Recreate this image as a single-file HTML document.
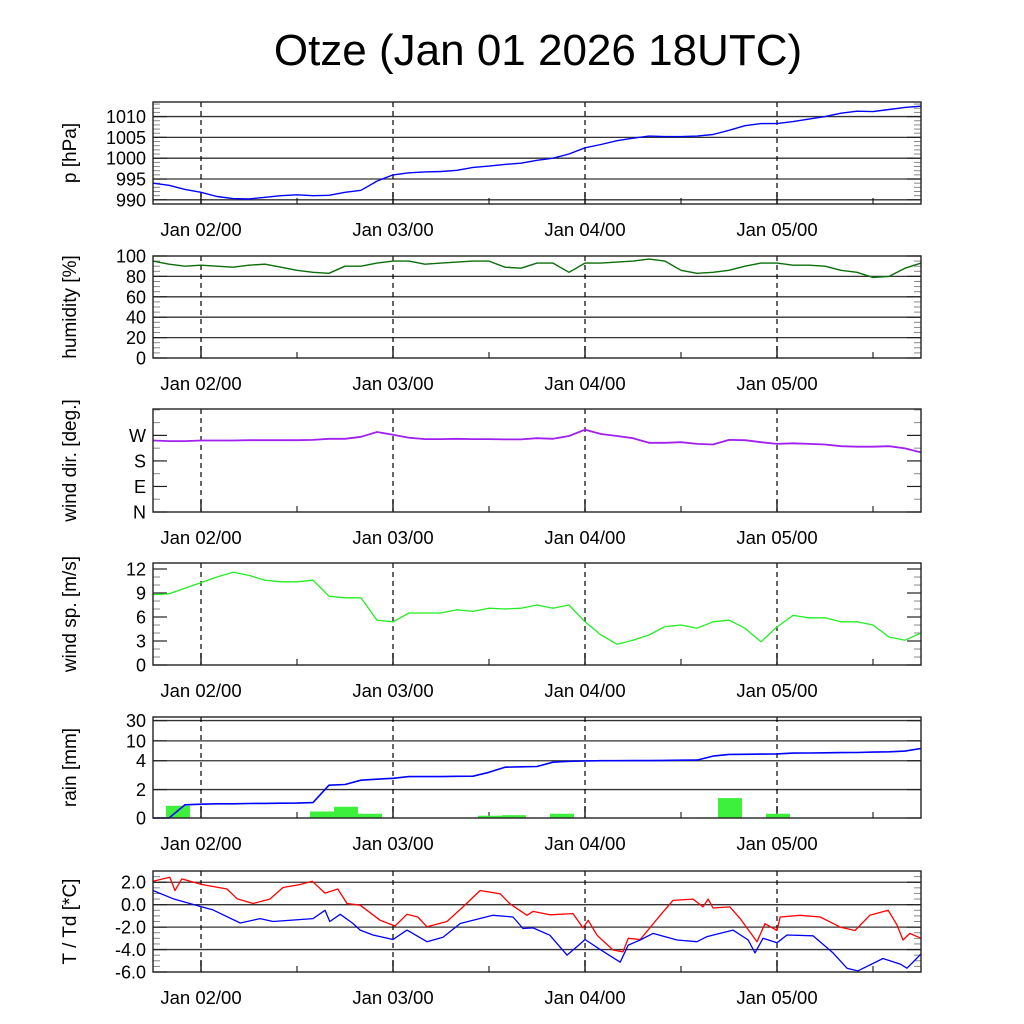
<!DOCTYPE html>
<html><head><meta charset="utf-8"><style>
html,body{margin:0;padding:0;background:#fff;}
svg{display:block;font-family:"Liberation Sans",sans-serif;}
</style></head><body>
<svg id="chart" width="1024" height="1024" viewBox="0 0 1024 1024" xmlns="http://www.w3.org/2000/svg">
<rect x="0" y="0" width="1024" height="1024" fill="#fff"/>
<text x="538" y="65" font-size="44" text-anchor="middle" fill="#000">Otze (Jan 01 2026 18UTC)</text>
</svg>
<script>
// ---- data (hours since Jan 01 18UTC) ----
const hours2 = [0,2,4,6,8,10,12,14,16,18,20,22,24,26,28,30,32,34,36,38,40,42,44,46,48,50,52,54,56,58,60,62,64,66,68,70,72,74,76,78,80,82,84,86,88,90,92,94,96];
const dayTicks = [6,30,54,78];
const dayLabels = ["Jan 02/00","Jan 03/00","Jan 04/00","Jan 05/00"];
const halfDayTicks = [18,42,66,90];
const pressure = [994.0,993.5,992.5,991.8,990.8,990.3,990.2,990.6,991.0,991.2,991.0,991.1,991.8,992.3,994.5,996.0,996.5,996.7,996.8,997.1,997.8,998.1,998.5,998.8,999.5,1000.0,1001.0,1002.5,1003.3,1004.2,1004.8,1005.3,1005.2,1005.2,1005.3,1005.7,1006.7,1007.8,1008.3,1008.3,1008.8,1009.4,1010.0,1010.8,1011.3,1011.2,1011.7,1012.2,1012.5];
const humidity = [95,92,90,91,90,89,91,92,89,86,84,83,90,90,93,95,95,92,93,94,95,95,89,88,93,93,84,93,93,94,95,97,95,86,83,84,86,90,93,93,91,91,90,86,84,79,80,88,93];
const windDir = [252,250,250,252,252,252,253,253,253,253,254,258,258,265,282,272,262,257,257,258,257,257,256,256,260,258,268,290,275,268,260,244,244,246,240,238,254,253,246,240,242,240,238,232,230,230,232,224,210];
const windSpeed = [8.8,8.9,9.6,10.3,11.0,11.6,11.2,10.6,10.4,10.4,10.6,8.6,8.4,8.4,5.6,5.4,6.5,6.5,6.5,6.9,6.7,7.1,7.0,7.1,7.5,7.1,7.5,5.4,3.75,2.6,3.1,3.75,4.8,5.0,4.6,5.4,5.6,4.6,2.9,4.75,6.2,5.9,5.9,5.4,5.4,5.0,3.5,3.1,4.0];
const rainAccum = [0,0,0.93,0.97,1.0,1.0,1.02,1.03,1.04,1.05,1.08,2.3,2.35,2.65,2.72,2.78,2.9,2.9,2.9,2.92,2.93,3.2,3.55,3.58,3.6,3.9,3.96,3.98,4.0,4.02,4.03,4.05,4.1,4.15,4.2,5.4,5.9,5.95,6.0,6.05,6.3,6.35,6.4,6.45,6.5,6.6,6.7,6.9,7.7];
const rainBinStart = [1.625,4.625,7.625,10.625,13.625,16.625,19.625,22.625,25.625,28.625,31.625,34.625,37.625,40.625,43.625,46.625,49.625,52.625,55.625,58.625,61.625,64.625,67.625,70.625,73.625,76.625,79.625,82.625,85.625,88.625,91.625];
const rainBins = [0.86,0.02,0,0,0,0,0.46,0.79,0.3,0,0.03,0,0,0.16,0.2,0,0.3,0.02,0,0,0,0,0.04,1.4,0,0.3,0,0,0.02,0.02,0.02];
const tempHours = [0,2.1,2.75,3.6,6.1,9.25,10.5,12.5,14.6,16.25,18.4,19.9,21.5,23.1,24.25,25.9,28.4,30.25,31.75,33.1,34.25,36.75,38.75,40.9,43.4,44.6,46.75,47.5,49.6,52.5,53.75,54.4,55.5,57.5,58.75,59.4,60.9,63.4,65,67.5,68.75,69.4,70,72.1,73.4,75.5,76.5,78,78.4,80.9,83.4,85.9,87.75,89.6,91.9,93,93.75,94.6,96];
const temp = [2.09,2.44,1.26,2.3,1.8,1.4,0.53,0.1,0.5,1.53,1.8,2.09,1.03,1.4,0.1,-0.05,-1.39,-1.9,-0.86,-1.1,-1.97,-1.5,-0.2,1.26,0.97,0.09,-0.95,-0.6,-0.9,-0.8,-2.07,-1.39,-2.72,-4.04,-4.2,-3.0,-3.1,-0.95,0.38,0.5,-0.2,0.5,-0.3,-0.2,-1.24,-3.3,-1.7,-2.3,-1.1,-0.95,-1.1,-2.0,-2.3,-0.95,-0.5,-1.8,-3.15,-2.56,-3.0];
const dewHours = [0,2.5,6.1,7.5,10.9,13.4,15,20,21.5,22.1,23.4,25,25.9,27.5,30,31.75,34.25,36.25,38.4,42.5,45,46.25,47.5,49.6,51.75,53.4,54,55.9,58.4,59.4,60.9,62.5,65.5,68,69.25,72.5,74.4,75.25,76.25,78,79.25,82.5,85,86.75,88.1,91.25,93.4,94.25,96];
const dewPoint = [1.26,0.53,-0.2,-0.47,-1.63,-1.24,-1.5,-1.24,-0.5,-1.5,-0.86,-1.68,-2.27,-2.7,-3.1,-2.27,-3.3,-2.9,-1.68,-0.95,-1.1,-2.12,-2.07,-2.72,-4.49,-3.5,-3.1,-4.0,-5.13,-3.6,-3.15,-2.56,-3.15,-3.3,-2.85,-2.27,-3.15,-4.3,-3.0,-3.4,-2.7,-2.77,-4.3,-5.66,-5.9,-4.8,-5.3,-5.66,-4.4];
const pTicks = [990,995,1000,1005,1010];
const hTicks = [0,20,40,60,80,100];
const wdTicks = [0,90,180,270];
const wdLabels = ["N","E","S","W"];
const wsTicks = [0,3,6,9,12];
const rainTicks = [0,2,4,10,30];
const tTicks = [-6,-4,-2,0,2];
const tLabels = ["-6.0","-4.0","-2.0","0.0","2.0"];

// ---- layout ----
const svg = document.getElementById('chart');
const NS = 'http://www.w3.org/2000/svg';
const X0 = 153, X1 = 921, H0 = 0, H1 = 96;
function xs(h){ return X0 + (h - H0) / (H1 - H0) * (X1 - X0); }
function mk(tag, attrs, parent){
  const e = document.createElementNS(NS, tag);
  for (const k in attrs) e.setAttribute(k, attrs[k]);
  (parent || svg).appendChild(e);
  return e;
}
function linScale(d0, d1, top, bot){ return v => bot - (v - d0) / (d1 - d0) * (bot - top); }
function rainScale(top, bot){
  const vals = [0,2,4,10,30,40];
  const frac = [0,0.2815,0.5669,0.7638,0.9646,1.0];
  return v => {
    let i = 0;
    while (i < vals.length - 2 && v > vals[i+1]) i++;
    const f = frac[i] + (v - vals[i]) / (vals[i+1] - vals[i]) * (frac[i+1] - frac[i]);
    return bot - f * (bot - top);
  };
}

function panel(name, top, bot, ys, ticks, labels, grid, title, minorStep, minorFrom, minorTo){
  const g = mk('g', {});
  
  
  if (grid) {
    ticks.forEach(t => {
      const y = ys(t);
      if (y > top + 1 && y < bot - 1) {
        const l = mk('line', {x1:X0, x2:X1, y1:y, y2:y, stroke:'#333', 'stroke-width':1.3}, g);
        
        
      }
    });
  }
  if (minorStep) {
    for (let v = minorFrom; v <= minorTo + 1e-9; v += minorStep) {
      const y = ys(v);
      if (y < top || y > bot) continue;
      mk('line', {x1:X0, x2:X0+7, y1:y, y2:y, stroke:'#888', 'stroke-width':1}, g);
      mk('line', {x1:X1-7, x2:X1, y1:y, y2:y, stroke:'#888', 'stroke-width':1}, g);
    }
  }
  ticks.forEach((t, i) => {
    const y = ys(t);
    mk('line', {x1:X0, x2:X0+14, y1:y, y2:y, stroke:'#222', 'stroke-width':1.2}, g);
    mk('line', {x1:X1-14, x2:X1, y1:y, y2:y, stroke:'#222', 'stroke-width':1.2}, g);
    const tx = mk('text', {x:146, y:y+6.5, 'font-size':18, 'text-anchor':'end', fill:'#000'}, g);
    tx.textContent = labels[i];
    
    
  });
  dayTicks.forEach((d, i) => {
    const x = xs(d);
    const l = mk('line', {x1:x, x2:x, y1:top, y2:bot, stroke:'#000', 'stroke-width':1.2, 'stroke-dasharray':'5,4'}, g);
    
    
    mk('line', {x1:x, x2:x, y1:bot-12, y2:bot, stroke:'#000', 'stroke-width':1.3}, g);
    const tx = mk('text', {x:x, y:bot+32, 'font-size':18.5, 'text-anchor':'middle', fill:'#000'}, g);
    tx.textContent = dayLabels[i];
    
    
  });
  halfDayTicks.forEach(d => {
    const x = xs(d);
    mk('line', {x1:x, x2:x, y1:bot-6, y2:bot, stroke:'#000', 'stroke-width':1}, g);
  });
  const tt = mk('text', {transform:'translate(76,' + ((top+bot)/2) + ') rotate(-90)', 'font-size':19, 'text-anchor':'middle', fill:'#000'}, g);
  tt.textContent = title;
  
  
  return g;
}
function frame(name, top, bot){
  const r = mk('rect', {x:X0, y:top, width:X1-X0, height:bot-top, fill:'none', stroke:'#222', 'stroke-width':1.4});
  
  
}
function series(name, hs, vals, ys, color, w){
  const d = vals.map((v,i) => (i ? 'L' : 'M') + xs(hs[i]).toFixed(1) + ',' + ys(v).toFixed(1)).join('');
  const p = mk('path', {d:d, fill:'none', stroke:color, 'stroke-width':w || 1.4, 'stroke-linejoin':'round'});
  
  
}

const yP = linScale(989, 1013.5, 102, 204);
panel('pressure', 102, 204, yP, pTicks, pTicks.map(String), true, 'p [hPa]', 1, 989, 1013);
series('pressure-line', hours2, pressure, yP, '#0000ff');
frame('pressure', 102, 204);

const yH = linScale(0, 100, 256, 358);
panel('humidity', 256, 358, yH, hTicks, hTicks.map(String), true, 'humidity [%]', 5, 0, 100);
series('humidity-line', hours2, humidity, yH, '#0a6e0a');
frame('humidity', 256, 358);

const yWD = linScale(0, 363, 409, 512);
panel('wind-direction', 409, 512, yWD, wdTicks, wdLabels, false, 'wind dir. [deg.]', 45, 0, 360);
series('wind-direction-line', hours2, windDir, yWD, '#a020f0', 1.8);
frame('wind-direction', 409, 512);

const yWS = linScale(0, 12.75, 563, 665);
panel('wind-speed', 563, 665, yWS, wsTicks, wsTicks.map(String), false, 'wind sp. [m/s]', 1, 0, 12);
series('wind-speed-line', hours2, windSpeed, yWS, '#22ee22', 1.3);
frame('wind-speed', 563, 665);

const yR = rainScale(717, 818);
panel('rain', 717, 818, yR, rainTicks, rainTicks.map(String), true, 'rain [mm]', 0, 0, 0);
rainBins.forEach((v, i) => {
  if (v <= 0) return;
  const x0 = xs(rainBinStart[i]), x1 = xs(rainBinStart[i] + 3);
  const y = yR(v);
  const b = mk('rect', {x:x0, y:y, width:x1-x0, height:yR(0)-y, fill:'#3cf03c'});
  
  
});
series('rain-accumulated-line', hours2, rainAccum, yR, '#0000ff', 1.6);
frame('rain', 717, 818);

const yT = linScale(-6, 3, 871, 972);
panel('temperature', 871, 972, yT, tTicks, tLabels, true, 'T / Td [*C]', 0.5, -6, 3);
series('temperature-line', tempHours, temp, yT, '#ff0000', 1.3);
series('dewpoint-line', dewHours, dewPoint, yT, '#0000ff', 1.3);
frame('temperature', 871, 972);
</script>
</body></html>
